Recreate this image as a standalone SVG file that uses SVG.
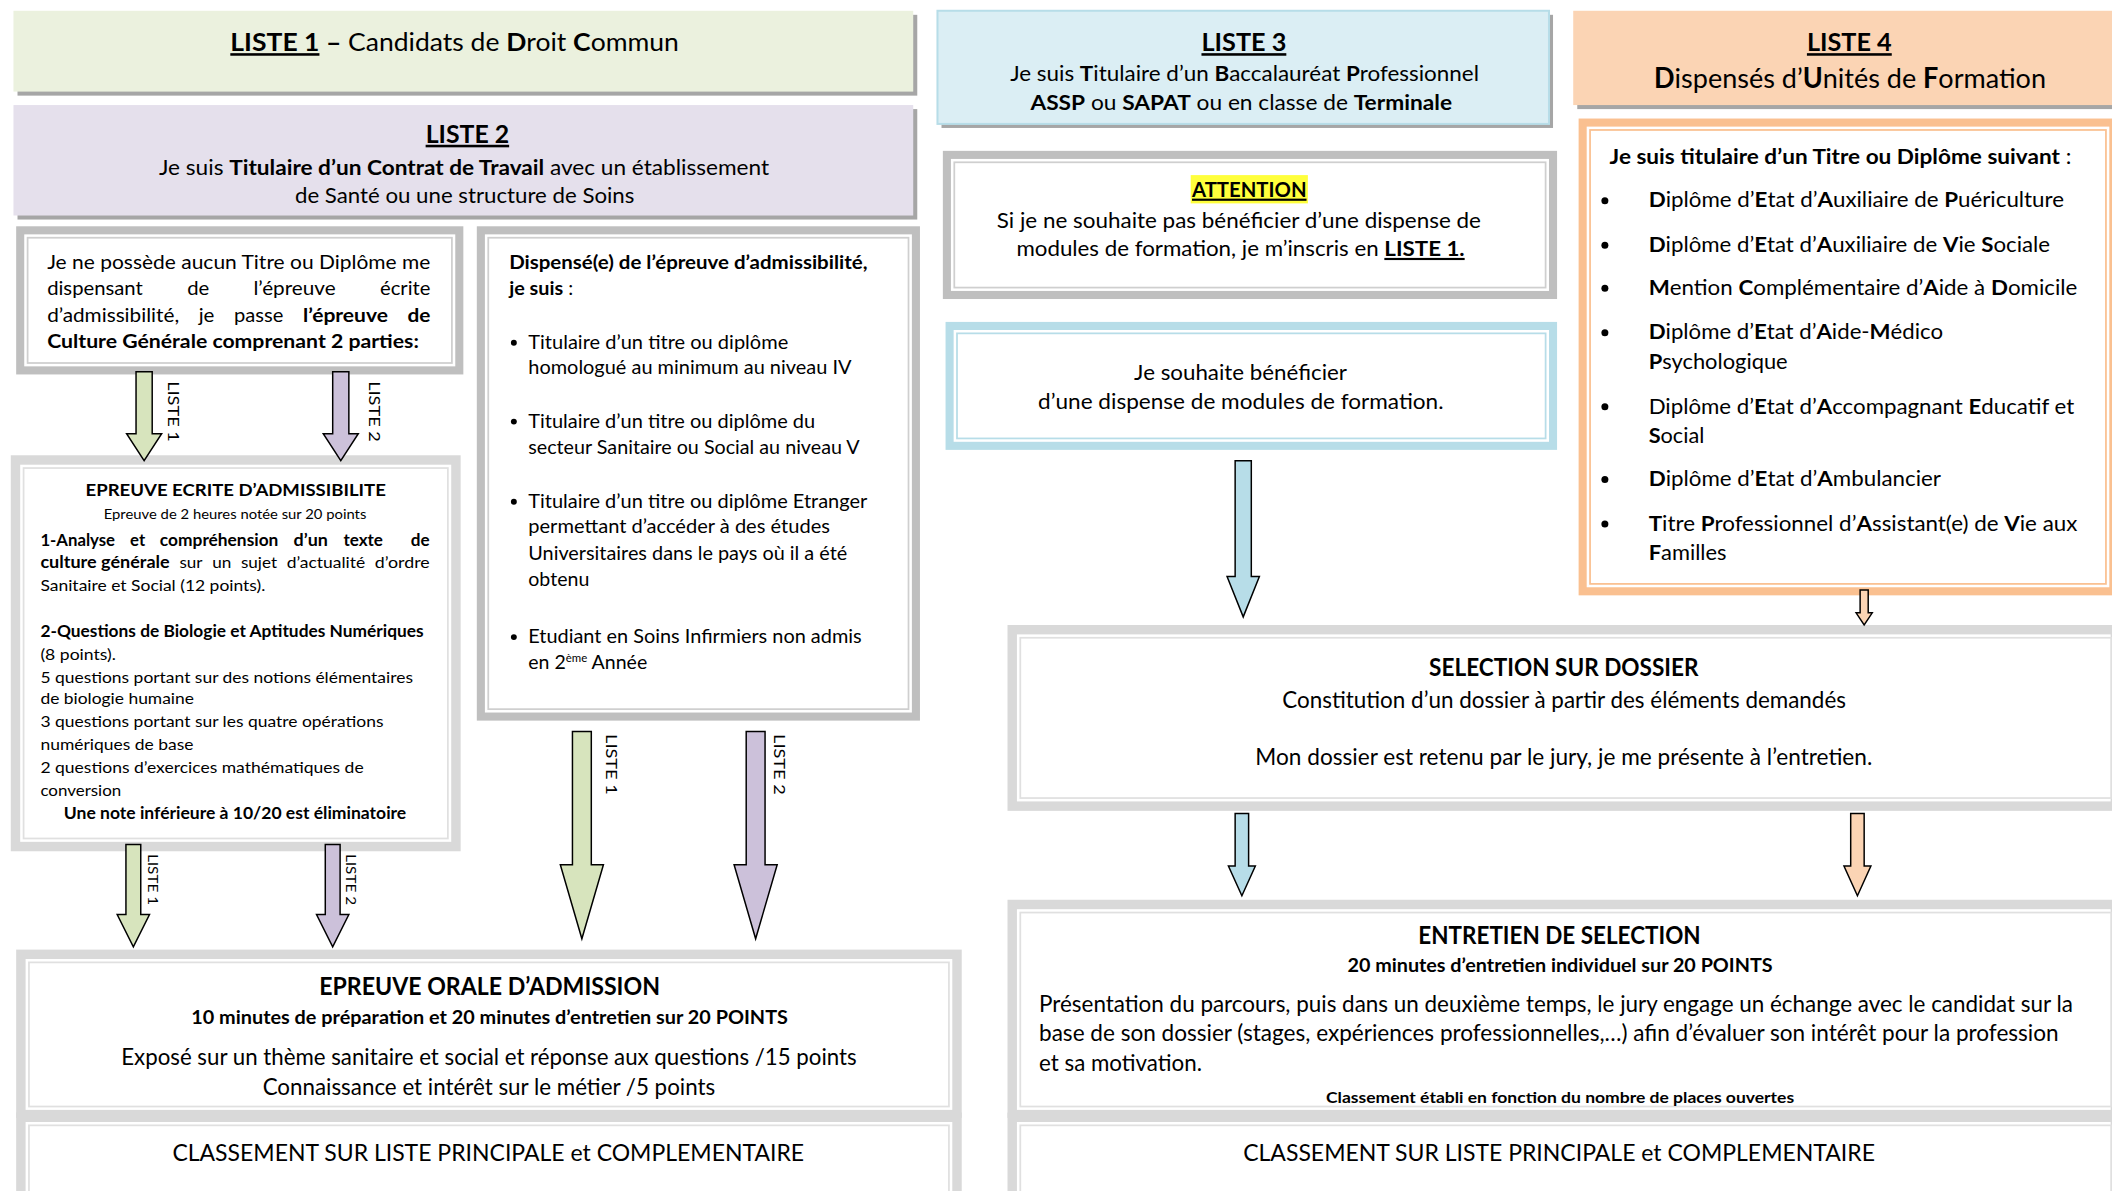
<svg xmlns="http://www.w3.org/2000/svg" width="2112" height="1191" viewBox="0 0 2112 1191">
<style>
text{font-family:Lato,"Liberation Sans",sans-serif;fill:#000}
.b{font-weight:700}
.u{text-decoration:underline}
.m{text-anchor:middle}
.e{text-anchor:end}
.g1{fill:#BFBFBF}
.g2{fill:#D9D9D9}
.bl{fill:#B7DDE8}
.or{fill:#FAC090}
.w{fill:#fff}
.l1{fill:none;stroke:#CFCFCF;stroke-width:1.3}
.l2{fill:none;stroke:#E0E0E0;stroke-width:1.3}
.lb{fill:none;stroke:#B7DDE8;stroke-width:1.3}
.lo{fill:none;stroke:#FAC090;stroke-width:1.3}
.sh{fill:#A6A6A6}
.arr{stroke:#000;stroke-width:1.1}
.ag{fill:#D7E4BD}
.ap{fill:#CCC1DA}
.ab{fill:#B7DDE8}
.ao{fill:#FBD4B4}
</style>
<rect width="2112" height="1191" fill="#fff"/>
<g transform="scale(1.346939)">

<g id="liste1">
<rect class="sh" x="13" y="11" width="668" height="60"/>
<rect x="10" y="8" width="668" height="60" fill="#EBF1DE"/>
<text x="171" y="38" font-size="19" textLength="333" lengthAdjust="spacingAndGlyphs"><tspan class="b u">LISTE 1</tspan><tspan class="b"> –</tspan> Candidats de <tspan class="b">D</tspan>roit <tspan class="b">C</tspan>ommun</text>
</g>

<g id="liste2">
<rect class="sh" x="13" y="81" width="668" height="82"/>
<rect x="10" y="78" width="668" height="82" fill="#E5E0EC"/>
<text x="347" y="106" font-size="19" class="b u m" textLength="62" lengthAdjust="spacingAndGlyphs">LISTE 2</text>
<text x="118" y="130" font-size="16" textLength="453" lengthAdjust="spacingAndGlyphs">Je suis <tspan class="b">Titulaire d’un Contrat de Travail</tspan> avec un établissement</text>
<text x="219" y="151" font-size="16" textLength="252" lengthAdjust="spacingAndGlyphs">de Santé ou une structure de Soins</text>
</g>

<g id="boxA">
<rect class="g1" x="12" y="168" width="332" height="110"/>
<rect class="w" x="18" y="174" width="320" height="98"/>
<rect class="l1" x="20.5" y="176.5" width="315" height="93"/>
<g font-size="14.5">
<text x="35" y="200" textLength="284.5" lengthAdjust="spacingAndGlyphs">Je ne possède aucun Titre ou Diplôme me</text>
<text x="35" y="219" textLength="71" lengthAdjust="spacingAndGlyphs">dispensant</text>
<text x="139" y="219" textLength="16.4" lengthAdjust="spacingAndGlyphs">de</text>
<text x="188.2" y="219" textLength="61" lengthAdjust="spacingAndGlyphs">l’épreuve</text>
<text x="282.1" y="219" textLength="37.4" lengthAdjust="spacingAndGlyphs">écrite</text>
<text x="35" y="239" textLength="98" lengthAdjust="spacingAndGlyphs">d’admissibilité,</text>
<text x="147.5" y="239" textLength="11.7" lengthAdjust="spacingAndGlyphs">je</text>
<text x="173.8" y="239" textLength="36.6" lengthAdjust="spacingAndGlyphs">passe</text>
<text x="225" y="239" class="b" textLength="63" lengthAdjust="spacingAndGlyphs">l’épreuve</text>
<text x="302.5" y="239" class="b" textLength="17" lengthAdjust="spacingAndGlyphs">de</text>
<text x="35" y="258" class="b" textLength="276" lengthAdjust="spacingAndGlyphs">Culture Générale comprenant 2 parties:</text>
</g>
</g>

<g id="boxB">
<rect class="g1" x="354" y="168" width="329" height="367"/>
<rect class="w" x="360" y="174" width="317" height="355"/>
<rect class="l1" x="362.5" y="176.5" width="312" height="350"/>
<g font-size="14.5">
<text x="378" y="200" class="b" textLength="266" lengthAdjust="spacingAndGlyphs">Dispensé(e) de l’épreuve d’admissibilité,</text>
<text x="378" y="219" textLength="47.5" lengthAdjust="spacingAndGlyphs"><tspan class="b">je suis</tspan> :</text>
<circle cx="381.5" cy="254.5" r="2.2"/>
<text x="392.2" y="259" textLength="193" lengthAdjust="spacingAndGlyphs">Titulaire d’un titre ou diplôme</text>
<text x="392.2" y="278" textLength="240" lengthAdjust="spacingAndGlyphs">homologué au minimum au niveau IV</text>
<circle cx="381.5" cy="313" r="2.2"/>
<text x="392.2" y="317.5" textLength="213" lengthAdjust="spacingAndGlyphs">Titulaire d’un titre ou diplôme du</text>
<text x="392.2" y="337" textLength="246" lengthAdjust="spacingAndGlyphs">secteur Sanitaire ou Social au niveau V</text>
<circle cx="381.5" cy="372.5" r="2.2"/>
<text x="392.2" y="377" textLength="251.7" lengthAdjust="spacingAndGlyphs">Titulaire d’un titre ou diplôme Etranger</text>
<text x="392.2" y="396" textLength="224" lengthAdjust="spacingAndGlyphs">permettant d’accéder à des études</text>
<text x="392.2" y="415.5" textLength="236.8" lengthAdjust="spacingAndGlyphs">Universitaires dans le pays où il a été</text>
<text x="392.2" y="435" textLength="45.3" lengthAdjust="spacingAndGlyphs">obtenu</text>
<circle cx="381.5" cy="473" r="2.2"/>
<text x="392.2" y="477.5" textLength="247.5" lengthAdjust="spacingAndGlyphs">Etudiant en Soins Infirmiers non admis</text>
<text x="392.2" y="496.5">en 2<tspan font-size="8.5" dy="-5">ème</tspan><tspan dy="5"> Année</tspan></text>
</g>
</g>

<g id="boxC">
<rect class="g2" x="8" y="338" width="334" height="294"/>
<rect class="w" x="15" y="345" width="320" height="280"/>
<rect class="l2" x="17.5" y="347.5" width="315" height="275"/>
<g font-size="12">
<text x="63.5" y="368.5" class="b" font-size="13" textLength="223" lengthAdjust="spacingAndGlyphs">EPREUVE ECRITE D’ADMISSIBILITE</text>
<text x="77" y="385" font-size="9.5" textLength="195" lengthAdjust="spacingAndGlyphs">Epreuve de 2 heures notée sur 20 points</text>
<g class="b">
<text x="30" y="405" textLength="55.4" lengthAdjust="spacingAndGlyphs">1-Analyse</text>
<text x="96.6" y="405" textLength="11.2" lengthAdjust="spacingAndGlyphs">et</text>
<text x="118.7" y="405" textLength="88" lengthAdjust="spacingAndGlyphs">compréhension</text>
<text x="218" y="405" textLength="25.5" lengthAdjust="spacingAndGlyphs">d’un</text>
<text x="255" y="405" textLength="29.3" lengthAdjust="spacingAndGlyphs">texte</text>
<text x="305" y="405" textLength="14" lengthAdjust="spacingAndGlyphs">de</text>
<text x="30" y="422" textLength="96" lengthAdjust="spacingAndGlyphs">culture générale</text>
</g>
<text x="133.2" y="422" textLength="17.1" lengthAdjust="spacingAndGlyphs">sur</text>
<text x="157.5" y="422" textLength="14.2" lengthAdjust="spacingAndGlyphs">un</text>
<text x="178.9" y="422" textLength="26.8" lengthAdjust="spacingAndGlyphs">sujet</text>
<text x="212.9" y="422" textLength="58.2" lengthAdjust="spacingAndGlyphs">d’actualité</text>
<text x="278.3" y="422" textLength="40.7" lengthAdjust="spacingAndGlyphs">d’ordre</text>
<text x="30" y="439" textLength="167" lengthAdjust="spacingAndGlyphs">Sanitaire et Social (12 points).</text>
<text x="30" y="473" class="b" textLength="284.5" lengthAdjust="spacingAndGlyphs">2-Questions de Biologie et Aptitudes Numériques</text>
<text x="30" y="490" textLength="56" lengthAdjust="spacingAndGlyphs">(8 points).</text>
<text x="30" y="507" textLength="276.6" lengthAdjust="spacingAndGlyphs">5 questions portant sur des notions élémentaires</text>
<text x="30" y="523" textLength="114" lengthAdjust="spacingAndGlyphs">de biologie humaine</text>
<text x="30" y="540" textLength="254.7" lengthAdjust="spacingAndGlyphs">3 questions portant sur les quatre opérations</text>
<text x="30" y="557" textLength="113.6" lengthAdjust="spacingAndGlyphs">numériques de base</text>
<text x="30" y="574" textLength="240" lengthAdjust="spacingAndGlyphs">2 questions d’exercices mathématiques de</text>
<text x="30" y="591" textLength="60" lengthAdjust="spacingAndGlyphs">conversion</text>
<text x="47.4" y="608" class="b" textLength="254.2" lengthAdjust="spacingAndGlyphs">Une note inférieure à 10/20 est éliminatoire</text>
</g>
</g>

<g id="boxD">
<rect class="g2" x="12" y="705" width="702" height="125"/>
<rect class="w" x="19" y="712" width="688" height="112"/>
<rect class="l2" x="21.5" y="714.5" width="683" height="107"/>
<text x="237" y="739" font-size="18" class="b" textLength="253" lengthAdjust="spacingAndGlyphs">EPREUVE ORALE D’ADMISSION</text>
<text x="142" y="760" font-size="13.5" class="b" textLength="443" lengthAdjust="spacingAndGlyphs">10 minutes de préparation et 20 minutes d’entretien sur 20 POINTS</text>
<text x="90" y="791" font-size="17" textLength="546" lengthAdjust="spacingAndGlyphs">Exposé sur un thème sanitaire et social et réponse aux questions /15 points</text>
<text x="195" y="813" font-size="17" textLength="336" lengthAdjust="spacingAndGlyphs">Connaissance et intérêt sur le métier /5 points</text>
</g>

<g id="boxE">
<rect class="g2" x="12" y="826" width="702" height="70"/>
<rect class="w" x="19" y="833" width="688" height="60"/>
<rect class="l2" x="21.5" y="835.5" width="683" height="60"/>
<text x="128" y="862" font-size="17.5" textLength="469" lengthAdjust="spacingAndGlyphs">CLASSEMENT SUR LISTE PRINCIPALE et COMPLEMENTAIRE</text>
</g>

<g id="liste3">
<rect class="sh" x="699" y="11" width="454" height="84"/>
<rect x="696" y="8" width="454" height="84" fill="#DBEEF4" stroke="#B7DDE8" stroke-width="1.5"/>
<text x="923.5" y="38" font-size="19" class="b u m" textLength="63" lengthAdjust="spacingAndGlyphs">LISTE 3</text>
<text x="750" y="60" font-size="16" textLength="348" lengthAdjust="spacingAndGlyphs">Je suis <tspan class="b">T</tspan>itulaire d’un <tspan class="b">B</tspan>accalauréat <tspan class="b">P</tspan>rofessionnel</text>
<text x="765" y="82" font-size="16" textLength="313" lengthAdjust="spacingAndGlyphs"><tspan class="b">ASSP</tspan> ou <tspan class="b">SAPAT</tspan> ou en classe de  <tspan class="b">Terminale</tspan></text>
</g>

<g id="liste4">
<rect class="sh" x="1171" y="11" width="404" height="70"/>
<rect x="1168" y="8" width="404" height="70" fill="#FBD4B4"/>
<text x="1373" y="38" font-size="19" class="b u m" textLength="63" lengthAdjust="spacingAndGlyphs">LISTE 4</text>
<text x="1228" y="65" font-size="20.5" textLength="291" lengthAdjust="spacingAndGlyphs"><tspan class="b">D</tspan>ispensés d’<tspan class="b">U</tspan>nités de <tspan class="b">F</tspan>ormation</text>
</g>

<g id="attention">
<rect class="g1" x="700" y="112" width="456" height="110"/>
<rect class="w" x="706" y="118" width="444" height="98"/>
<rect class="l1" x="708.5" y="120.5" width="439" height="93"/>
<rect x="884" y="130" width="87" height="21" fill="#FFFF3C"/>
<text x="927.5" y="146" font-size="16" class="b u m" textLength="85" lengthAdjust="spacingAndGlyphs">ATTENTION</text>
<text x="740" y="169" font-size="16" textLength="359.5" lengthAdjust="spacingAndGlyphs">Si je ne souhaite pas bénéficier d’une dispense de</text>
<text x="754.6" y="190" font-size="16" textLength="332.8" lengthAdjust="spacingAndGlyphs">modules de formation, je m’inscris en <tspan class="b u">LISTE 1.</tspan></text>
</g>

<g id="dispense">
<rect class="bl" x="702" y="239" width="454" height="95"/>
<rect class="w" x="708" y="245" width="442" height="83"/>
<rect class="lb" x="710.5" y="247.5" width="437" height="78"/>
<text x="842" y="282" font-size="16" textLength="158" lengthAdjust="spacingAndGlyphs">Je souhaite bénéficier</text>
<text x="770.7" y="304" font-size="16" textLength="301" lengthAdjust="spacingAndGlyphs">d’une dispense de modules de formation.</text>
</g>

<g id="liste4list">
<rect class="or" x="1172" y="88" width="400" height="354"/>
<rect class="w" x="1178" y="94" width="388" height="342"/>
<rect class="lo" x="1180.5" y="96.5" width="383" height="337"/>
<g font-size="15.5">
<text x="1195" y="121.5" textLength="342.8" lengthAdjust="spacingAndGlyphs"><tspan class="b">Je suis titulaire d’un Titre ou Diplôme suivant</tspan> :</text>
<circle cx="1191.5" cy="149" r="2.6"/>
<text x="1224" y="154" textLength="308.4" lengthAdjust="spacingAndGlyphs"><tspan class="b">D</tspan>iplôme d’<tspan class="b">E</tspan>tat d’<tspan class="b">A</tspan>uxiliaire de <tspan class="b">P</tspan>uériculture</text>
<circle cx="1191.5" cy="182" r="2.6"/>
<text x="1224" y="187" textLength="298" lengthAdjust="spacingAndGlyphs"><tspan class="b">D</tspan>iplôme d’<tspan class="b">E</tspan>tat d’<tspan class="b">A</tspan>uxiliaire de <tspan class="b">V</tspan>ie <tspan class="b">S</tspan>ociale</text>
<circle cx="1191.5" cy="214" r="2.6"/>
<text x="1224" y="219" textLength="318.3" lengthAdjust="spacingAndGlyphs"><tspan class="b">M</tspan>ention <tspan class="b">C</tspan>omplémentaire d’<tspan class="b">A</tspan>ide à <tspan class="b">D</tspan>omicile</text>
<circle cx="1191.5" cy="247" r="2.6"/>
<text x="1224" y="252" textLength="218.6" lengthAdjust="spacingAndGlyphs"><tspan class="b">D</tspan>iplôme d’<tspan class="b">E</tspan>tat d’<tspan class="b">A</tspan>ide-<tspan class="b">M</tspan>édico</text>
<text x="1224" y="274" textLength="103.2" lengthAdjust="spacingAndGlyphs"><tspan class="b">P</tspan>sychologique</text>
<circle cx="1191.5" cy="302" r="2.6"/>
<text x="1224" y="307" textLength="316" lengthAdjust="spacingAndGlyphs">Diplôme d’<tspan class="b">E</tspan>tat d’<tspan class="b">A</tspan>ccompagnant <tspan class="b">E</tspan>ducatif et</text>
<text x="1224" y="329" textLength="41.3" lengthAdjust="spacingAndGlyphs"><tspan class="b">S</tspan>ocial</text>
<circle cx="1191.5" cy="356" r="2.6"/>
<text x="1224" y="361" textLength="217" lengthAdjust="spacingAndGlyphs"><tspan class="b">D</tspan>iplôme d’<tspan class="b">E</tspan>tat d’<tspan class="b">A</tspan>mbulancier</text>
<circle cx="1191.5" cy="389" r="2.6"/>
<text x="1224" y="394" textLength="318.3" lengthAdjust="spacingAndGlyphs"><tspan class="b">T</tspan>itre <tspan class="b">P</tspan>rofessionnel d’<tspan class="b">A</tspan>ssistant(e) de <tspan class="b">V</tspan>ie aux</text>
<text x="1224" y="416" textLength="57.8" lengthAdjust="spacingAndGlyphs"><tspan class="b">F</tspan>amilles</text>
</g>
</g>

<g id="selection">
<rect class="g2" x="748" y="464" width="826" height="138"/>
<rect class="w" x="755" y="471" width="812" height="124"/>
<rect class="l2" x="757.5" y="473.5" width="810" height="119"/>
<text x="1061" y="502" font-size="18" class="b" textLength="200" lengthAdjust="spacingAndGlyphs">SELECTION SUR DOSSIER</text>
<text x="952" y="526" font-size="16.5" textLength="418.5" lengthAdjust="spacingAndGlyphs">Constitution d’un dossier à partir des éléments demandés</text>
<text x="932" y="568" font-size="16.5" textLength="458" lengthAdjust="spacingAndGlyphs">Mon dossier est retenu par le jury, je me présente à l’entretien.</text>
</g>

<g id="entretien">
<rect class="g2" x="748" y="668" width="826" height="162"/>
<rect class="w" x="755" y="675" width="812" height="149"/>
<rect class="l2" x="757.5" y="677.5" width="810" height="144"/>
<text x="1053" y="701" font-size="18" class="b" textLength="209.6" lengthAdjust="spacingAndGlyphs">ENTRETIEN DE SELECTION</text>
<text x="1000.4" y="722" font-size="14" class="b" textLength="315.6" lengthAdjust="spacingAndGlyphs">20 minutes d’entretien individuel sur 20 POINTS</text>
<text x="771.4" y="751" font-size="16.5" textLength="767.6" lengthAdjust="spacingAndGlyphs">Présentation du parcours, puis dans un deuxième temps, le jury engage un échange avec le candidat sur la</text>
<text x="771.4" y="773" font-size="16.5" textLength="757" lengthAdjust="spacingAndGlyphs">base de son dossier (stages, expériences professionnelles,…) afin d’évaluer son intérêt pour la profession</text>
<text x="771.4" y="795" font-size="16.5" textLength="121" lengthAdjust="spacingAndGlyphs">et sa motivation.</text>
<text x="984.5" y="819" font-size="11" class="b" textLength="347.5" lengthAdjust="spacingAndGlyphs">Classement établi en fonction du nombre de places ouvertes</text>
</g>

<g id="classementR">
<rect class="g2" x="748" y="826" width="826" height="70"/>
<rect class="w" x="755" y="833" width="812" height="60"/>
<rect class="l2" x="757.5" y="835.5" width="810" height="60"/>
<text x="923" y="862" font-size="17.5" textLength="469" lengthAdjust="spacingAndGlyphs">CLASSEMENT SUR LISTE PRINCIPALE et COMPLEMENTAIRE</text>
</g>

<g id="connectors">
<path class="arr ag" d="M101 276 H113 V322 H120 L107 342 L94 322 H101 Z"/>
<path class="arr ap" d="M247 276 H259 V322 H266 L253 342 L240 322 H247 Z"/>
<path class="arr ag" d="M93.5 627 H104.5 V679 H111 L99 703 L87 679 H93.5 Z"/>
<path class="arr ap" d="M241.5 627 H252.5 V679 H259 L247 703 L235 679 H241.5 Z"/>
<path class="arr ag" d="M425 543 H439 V642 H448 L432 697 L416 642 H425 Z"/>
<path class="arr ap" d="M554 543 H568 V642 H577 L561 697 L545 642 H554 Z"/>
<path class="arr ab" d="M917 342 H929 V428 H935 L923 458 L911 428 H917 Z"/>
<path class="arr ao" d="M1381 438 H1387 V455 H1390 L1384 464 L1378 455 H1381 Z"/>
<path class="arr ab" d="M917 604 H927 V643 H932 L922 665 L912 643 H917 Z"/>
<path class="arr ao" d="M1374 604 H1384 V643 H1389 L1379 665 L1369 643 H1374 Z"/>
<text transform="translate(125,283) rotate(90)" font-size="11.5" textLength="45" lengthAdjust="spacingAndGlyphs">LISTE 1</text>
<text transform="translate(274,283) rotate(90)" font-size="11.5" textLength="45" lengthAdjust="spacingAndGlyphs">LISTE 2</text>
<text transform="translate(110,634) rotate(90)" font-size="10" textLength="38" lengthAdjust="spacingAndGlyphs">LISTE 1</text>
<text transform="translate(257,634) rotate(90)" font-size="10" textLength="38" lengthAdjust="spacingAndGlyphs">LISTE 2</text>
<text transform="translate(450,545) rotate(90)" font-size="12" textLength="45" lengthAdjust="spacingAndGlyphs">LISTE 1</text>
<text transform="translate(575,545) rotate(90)" font-size="12" textLength="45" lengthAdjust="spacingAndGlyphs">LISTE 2</text>
</g>

</g>
</svg>
